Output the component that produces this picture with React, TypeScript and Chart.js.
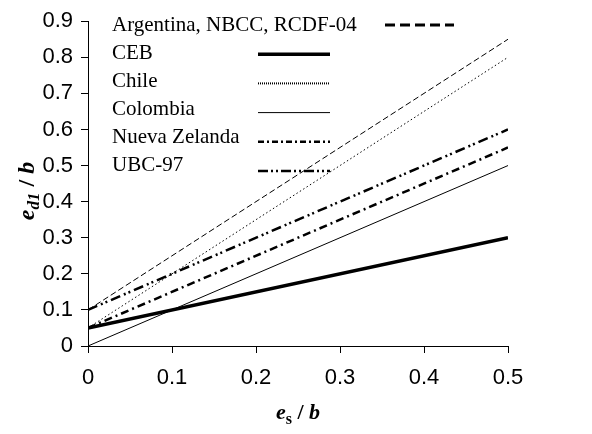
import React, { useEffect, useRef } from "react";
import { Chart, registerables } from "chart.js";

Chart.register(...registerables);

const xValues = [0, 0.5];
const seriesNames = ["Argentina, NBCC, RCDF-04", "CEB", "Chile", "Colombia", "Nueva Zelanda", "UBC-97"];
const argentina = [0.1, 0.85];
const ceb = [0.05, 0.3];
const chile = [0.05, 0.8];
const colombia = [0, 0.5];
const nuevaZelanda = [0.05, 0.55];
const ubc97 = [0.1, 0.6];
const xTicks = [0, 0.1, 0.2, 0.3, 0.4, 0.5];
const yTicks = [0, 0.1, 0.2, 0.3, 0.4, 0.5, 0.6, 0.7, 0.8, 0.9];

const seriesValues = [argentina, ceb, chile, colombia, nuevaZelanda, ubc97];

// plot styles
const plotStyles = [
  { width: 1, dash: [6, 3] },
  { width: 3.5, dash: [] as number[] },
  { width: 1, dash: [1.5, 2.5] },
  { width: 1, dash: [] as number[] },
  { width: 2.5, dash: [8, 4, 2, 4] },
  { width: 2.5, dash: [10, 4, 2, 3, 2, 4] },
];
// legend sample styles
const legendStyles = [
  { width: 3, dash: [10, 5] },
  { width: 3.5, dash: [] as number[] },
  { width: 2, dash: [1, 1] },
  { width: 1, dash: [] as number[] },
  { width: 2.5, dash: [6, 3, 2, 3] },
  { width: 2.5, dash: [10, 3, 2, 3, 2, 3] },
];

const SERIF = "'Liberation Serif', 'Times New Roman', serif";
const SANS = "'Liberation Sans', Arial, sans-serif";

function drawRich(ctx: CanvasRenderingContext2D, parts: { t: string; font: string; dy: number }[], cx: number, by: number) {
  let total = 0;
  for (const p of parts) {
    ctx.font = p.font;
    total += ctx.measureText(p.t).width;
  }
  let x = cx - total / 2;
  for (const p of parts) {
    ctx.font = p.font;
    ctx.fillText(p.t, x, by + p.dy);
    x += ctx.measureText(p.t).width;
  }
}

const overlayPlugin = {
  id: "overlay",
  afterDraw(chart: any) {
    const ctx = chart.ctx as CanvasRenderingContext2D;
    ctx.save();
    ctx.fillStyle = "#000";
    ctx.textBaseline = "alphabetic";
    ctx.textAlign = "left";
    // legend
    ctx.font = `21px ${SERIF}`;
    seriesNames.forEach((name, i) => {
      ctx.fillText(name, 112, 31 + i * 27.9);
    });
    seriesNames.forEach((_, i) => {
      const st = legendStyles[i];
      const y = i === 0 ? 25 : 25 + i * 29.2;
      const x0 = i === 0 ? 385 : 258;
      const x1 = i === 0 ? 454 : 330;
      ctx.beginPath();
      ctx.setLineDash(st.dash);
      ctx.lineWidth = st.width;
      ctx.strokeStyle = "#000";
      ctx.moveTo(x0, y);
      ctx.lineTo(x1, y);
      ctx.stroke();
    });
    ctx.setLineDash([]);
    // x title
    const big = `italic bold 22px ${SERIF}`;
    drawRich(
      ctx,
      [
        { t: "e", font: big, dy: 0 },
        { t: "s", font: `bold 16px ${SERIF}`, dy: 5 },
        { t: " / ", font: `bold 22px ${SERIF}`, dy: 0 },
        { t: "b", font: big, dy: 0 },
      ],
      298,
      419
    );
    // y title
    ctx.translate(34, 191);
    ctx.rotate(-Math.PI / 2);
    const bigY = `italic bold 24px ${SERIF}`;
    drawRich(
      ctx,
      [
        { t: "e", font: bigY, dy: 0 },
        { t: "d1", font: `italic bold 17px ${SERIF}`, dy: 5 },
        { t: " / ", font: `bold 24px ${SERIF}`, dy: 0 },
        { t: "b", font: bigY, dy: 0 },
      ],
      0,
      0
    );
    ctx.restore();
  },
};

export default function App() {
  const ref = useRef<HTMLCanvasElement>(null);
  useEffect(() => {
    if (!ref.current) return;
    const chart = new Chart(ref.current, {
      type: "line",
      data: {
        datasets: seriesValues.map((vals, i) => ({
          label: seriesNames[i],
          data: xValues.map((x, j) => ({ x, y: vals[j] })),
          borderColor: "#000",
          backgroundColor: "#000",
          borderWidth: plotStyles[i].width,
          borderDash: plotStyles[i].dash,
          pointRadius: 0,
          fill: false,
          tension: 0,
        })),
      },
      options: {
        animation: false,
        responsive: false,
        events: [],
        layout: { padding: { left: 0, right: 84, top: 19, bottom: 0 } },
        plugins: { legend: { display: false }, tooltip: { enabled: false } },
        scales: {
          x: {
            type: "linear",
            min: 0,
            max: 0.5,
            afterFit: (s: any) => {
              s.height = 88;
            },
            afterBuildTicks: (s: any) => {
              s.ticks = xTicks.map((v) => ({ value: v }));
            },
            ticks: {
              color: "#000",
              font: { family: SANS, size: 22 },
              padding: 12,
              maxRotation: 0,
              callback: (v: any) => String(Number(Number(v).toFixed(1))),
            },
            grid: { display: true, drawOnChartArea: false, drawTicks: true, tickLength: 7, color: "#000", tickColor: "#000" },
            border: { display: true, color: "#000", width: 1 },
          },
          y: {
            type: "linear",
            min: 0,
            max: 0.9,
            afterFit: (s: any) => {
              s.width = 88;
            },
            afterBuildTicks: (s: any) => {
              s.ticks = yTicks.map((v) => ({ value: v }));
            },
            ticks: {
              color: "#000",
              font: { family: SANS, size: 22 },
              padding: 8,
              callback: (v: any) => String(Number(Number(v).toFixed(1))),
            },
            grid: { display: true, drawOnChartArea: false, drawTicks: true, tickLength: 7, color: "#000", tickColor: "#000" },
            border: { display: true, color: "#000", width: 1 },
          },
        },
      },
      plugins: [overlayPlugin],
    } as any);
    return () => chart.destroy();
  }, []);
  return (
    <div style={{ position: "absolute", left: 0, top: 0, width: 592, height: 434, background: "#fff" }}>
      <canvas ref={ref} width={592} height={434} style={{ width: 592, height: 434 }} />
    </div>
  );
}
